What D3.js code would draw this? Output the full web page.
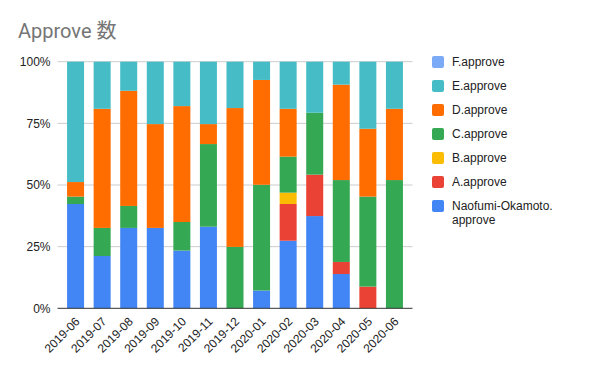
<!DOCTYPE html>
<html>
<head>
<meta charset="utf-8">
<script src="https://cdn.jsdelivr.net/npm/d3@7"></script>
<style>
  body { margin: 0; background: #fff; }
  .axis text { font-family: Arial, "Liberation Sans", sans-serif; font-size: 12px; fill: #222; }
  .legend text { font-family: Arial, "Liberation Sans", sans-serif; font-size: 12px; fill: #222; }
</style>
</head>
<body>
<div class="chart"></div>
<script>
// months and share of approvals per person (percent)
const months = ['2019-06','2019-07','2019-08','2019-09','2019-10','2019-11','2019-12',
                '2020-01','2020-02','2020-03','2020-04','2020-05','2020-06'];
const naofumi = [42.3, 21.2, 32.6, 32.6, 23.4, 33.1, 0, 7.2, 27.4, 37.4, 13.9, 0, 0];
const aApprove = [0, 0, 0, 0, 0, 0, 0, 0, 14.9, 16.8, 4.9, 8.8, 0];
const bApprove = [0, 0, 0, 0, 0, 0, 0, 0, 4.6, 0, 0, 0, 0];
const cApprove = [3.0, 11.4, 8.9, 0, 11.6, 33.5, 24.9, 42.9, 14.6, 25.1, 33.2, 36.5, 52.0];
const dApprove = [5.9, 48.3, 46.7, 42.1, 47.0, 8.1, 56.3, 42.5, 19.4, 0, 38.7, 27.5, 28.9];
const eApprove = [48.8, 19.1, 11.8, 25.3, 18.0, 25.3, 18.8, 7.4, 19.1, 20.7, 9.3, 27.2, 19.1];
const fApprove = [0, 0, 0, 0, 0, 0, 0, 0, 0, 0, 0, 0, 0];
const seriesNames = ['Naofumi-Okamoto.approve','A.approve','B.approve','C.approve','D.approve','E.approve','F.approve'];
const seriesColors = ['#4285f4','#ea4335','#fbbc04','#34a853','#ff6d01','#46bdc6','#7baaf7'];
const yTicks = [0, 0.25, 0.5, 0.75, 1];

const allSeries = [naofumi, aApprove, bApprove, cApprove, dApprove, eApprove, fApprove];
const data = months.map((m, i) => {
    let row = {month: m};
    seriesNames.forEach((s, j) => { row[s] = allSeries[j][i]; });
    return row;
});

const width = 600, height = 371;
const svg = d3.select('.chart').append('svg')
    .attr('width', width)
    .attr('height', height);

svg.append('text')
    .attr('x', 18)
    .attr('y', 38)
    .style('font-family', 'Roboto, "Noto Sans CJK JP", sans-serif')
    .style('font-size', '20px')
    .style('fill', '#757575')
    .text('Approve 数');

let xScale = d3.scaleBand()
    .domain(months)
    .range([57.5, 412.5])
    .paddingInner(0.36)
    .paddingOuter(0.36);

let yScale = d3.scaleLinear()
    .domain([0, 1])
    .range([308.3, 61.7]);

let colorScale = d3.scaleOrdinal().domain(seriesNames).range(seriesColors);

// gridlines
svg.append('g')
    .selectAll('line')
    .data(yTicks.slice(1))
    .enter()
    .append('line')
    .attr('x1', 57.5)
    .attr('x2', 412.5)
    .attr('y1', d => yScale(d))
    .attr('y2', d => yScale(d))
    .attr('stroke', '#cccccc')
    .attr('stroke-width', 1);

const stacked = d3.stack()
    .keys(seriesNames)
    .offset(d3.stackOffsetExpand)(data);

svg.append('g')
    .selectAll('g')
    .data(stacked)
    .enter()
    .append('g')
    .attr('fill', d => colorScale(d.key))
    .selectAll('rect')
    .data(d => d)
    .enter()
    .append('rect')
    .attr('x', d => xScale(d.data.month))
    .attr('width', xScale.bandwidth())
    .attr('y', d => yScale(d[1]))
    .attr('height', d => yScale(d[0]) - yScale(d[1]));

let yAxis = d3.axisLeft(yScale)
    .tickValues(yTicks)
    .tickFormat(d3.format('.0%'))
    .tickSize(0)
    .tickPadding(7);

svg.append('g')
    .attr('class', 'axis y-axis')
    .attr('transform', 'translate(57.5,0)')
    .call(yAxis)
    .call(g => g.select('.domain').remove());

let xAxis = d3.axisBottom(xScale)
    .tickSize(0)
    .tickPadding(0);

svg.append('g')
    .attr('class', 'axis x-axis')
    .attr('transform', 'translate(0,308.3)')
    .call(xAxis)
    .call(g => g.select('.domain').remove())
    .selectAll('text')
    .attr('text-anchor', 'end')
    .attr('dy', null)
    .attr('y', 0)
    .attr('transform', 'translate(5,14) rotate(-45)');

svg.append('line')
    .attr('x1', 57.5)
    .attr('x2', 412.5)
    .attr('y1', 308.3)
    .attr('y2', 308.3)
    .attr('stroke', '#333')
    .attr('stroke-width', 1);

// legend, top to bottom F ... Naofumi
const legendItems = seriesNames.slice().reverse();
const legend = svg.append('g').attr('class', 'legend');

legend.selectAll('rect')
    .data(legendItems)
    .enter()
    .append('rect')
    .attr('x', 432)
    .attr('y', (d, i) => 56 + 24 * i)
    .attr('width', 12)
    .attr('height', 12)
    .attr('rx', 2)
    .attr('fill', d => colorScale(d));

legend.selectAll('text')
    .data(legendItems)
    .enter()
    .append('text')
    .attr('x', 452)
    .attr('y', (d, i) => 66 + 24 * i)
    .each(function(d) {
        const t = d3.select(this);
        if (d.startsWith('Naofumi')) {
            t.append('tspan').text('Naofumi-Okamoto.');
            t.append('tspan').attr('x', 452).attr('dy', 14).text('approve');
        } else {
            t.text(d);
        }
    });
</script>
</body>
</html>
